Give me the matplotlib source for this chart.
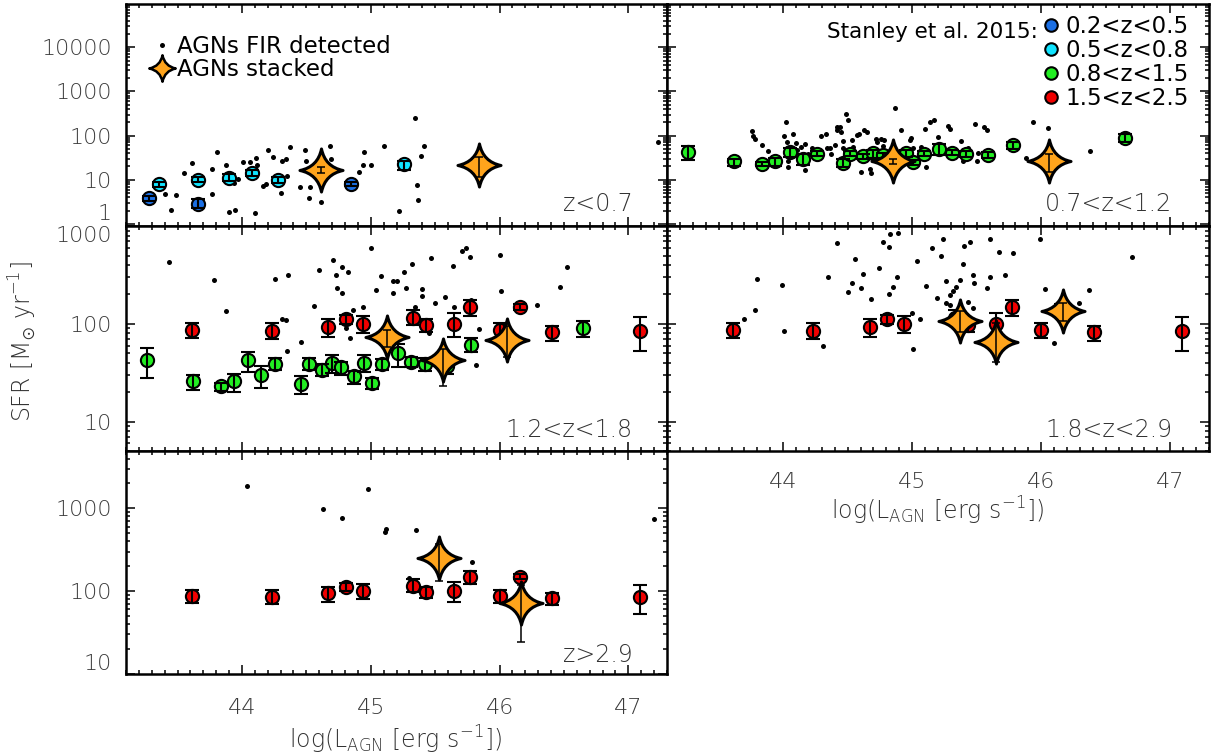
import numpy as np
import matplotlib.pyplot as plt
from matplotlib.path import Path
from matplotlib.markers import MarkerStyle
from matplotlib.lines import Line2D
from matplotlib.ticker import FixedLocator, MultipleLocator, LogLocator, NullFormatter, FuncFormatter

plt.rcParams['font.family'] = ['DejaVu Sans']
plt.rcParams['font.weight'] = 'light'
plt.rcParams['mathtext.fontset'] = 'dejavusans'

# ---- FIR detected AGNs (black dots), one set per panel ----
fir1_x = [43.40, 43.45, 43.49, 43.55, 43.61, 43.77, 43.77, 43.81, 43.88, 43.90, 43.95, 43.94, 43.97, 44.01, 44.06,
          44.10, 44.11, 44.12, 44.12, 44.16, 44.19, 44.20, 44.24, 44.28, 44.30, 44.31, 44.34, 44.35, 44.37, 44.45,
          44.49, 44.50, 44.52, 44.53, 44.61, 44.68, 44.69, 44.91, 44.94, 44.95, 45.00, 45.10, 45.22, 45.34, 45.36,
          45.37, 45.39, 45.41, 47.23]
fir1_y = [4.7, 2.1, 4.5, 14, 24, 4.7, 17.6, 43, 21.7, 1.9, 2.1, 8.6, 10.3, 25.8, 25,
          1.8, 30.7, 21.7, 14, 7.2, 7.9, 47, 33, 13, 4.9, 27, 30, 12, 55, 7,
          46, 27, 3.9, 7, 3.2, 58, 30, 15, 22, 43, 21.7, 59, 2.0, 247, 7.6,
          3.5, 35, 59, 71]

fir2_x = [43.76, 43.77, 43.78, 43.84, 43.88, 44.02, 44.01, 44.03, 44.04, 44.04, 44.08, 44.10, 44.11, 44.14, 44.17,
          44.17, 44.19, 44.22, 44.24, 44.29, 44.33, 44.34, 44.36, 44.37, 44.40, 44.42, 44.42, 44.44, 44.45, 44.46,
          44.46, 44.48, 44.49, 44.50, 44.53, 44.54, 44.57, 44.59, 44.60, 44.61, 44.63, 44.65, 44.67, 44.68, 44.69,
          44.72, 44.73, 44.76, 44.77, 44.78, 44.87, 44.91, 44.98, 44.99, 45.01, 45.07, 45.10, 45.11, 45.14, 45.17,
          45.20, 45.23, 45.28, 45.29, 45.38, 45.39, 45.39, 45.43, 45.49, 45.50, 45.51, 45.56, 45.58, 45.94, 46.05,
          45.88, 46.38]
fir2_y = [128, 100, 84, 62, 45, 200, 100, 71, 26, 19, 109, 67, 47, 56, 16.7,
          64, 38, 52, 45, 100, 109, 53, 52, 38, 62, 134, 155, 160, 119, 76,
          52, 40, 304, 226, 80, 54, 104, 108, 15.3, 40, 134, 119, 17.6, 14, 47,
          84, 73, 84, 59, 80, 416, 134, 80, 87, 52, 56, 139, 19.9, 207, 226,
          95, 52, 166, 142, 76, 26, 47, 52, 181, 26, 40, 160, 134, 200, 147,
          31, 45]

fir3_x = [43.43, 43.78, 43.88, 44.26, 44.31, 44.34, 44.35, 44.36, 44.46, 44.56, 44.60, 44.71, 44.73, 44.74, 44.78,
          44.78, 44.82, 44.81, 44.84, 44.86, 44.94, 45.00, 45.04, 45.08, 45.17, 45.20, 45.17, 45.27, 45.26, 45.32,
          45.32, 45.34, 45.37, 45.40, 45.40, 45.45, 45.47, 45.50, 45.58, 45.64, 45.65, 45.71, 45.74, 45.77, 45.78,
          45.82, 45.84, 46.00, 46.01, 46.47, 46.52, 46.29]
fir3_y = [435, 282, 137, 286, 112, 110, 53, 318, 66, 153, 357, 452, 318, 232, 209,
          386, 343, 90, 71, 139, 148, 596, 223, 310, 278, 278, 209, 232, 336, 411,
          110, 148, 110, 226, 194, 80, 470, 165, 190, 393, 150, 563, 596, 482, 176,
          38, 88, 508, 218, 241, 380, 157]

fir4_x = [43.80, 43.78, 43.70, 43.99, 44.01, 44.31, 44.35, 44.42, 44.50, 44.53, 44.56, 44.60, 44.62, 44.68, 44.74,
          44.77, 44.82, 44.83, 44.82, 44.85, 44.88, 44.89, 45.00, 45.01, 45.04, 45.06, 45.11, 45.15, 45.19, 45.22,
          45.24, 45.26, 45.26, 45.29, 45.29, 45.32, 45.34, 45.37, 45.39, 45.40, 45.45, 45.43, 45.47, 45.48, 45.47,
          45.58, 45.60, 45.60, 45.67, 45.72, 45.78, 45.99, 46.03, 46.10, 46.29, 46.37, 46.70]
fir4_y = [287, 139, 112, 251, 85, 60, 300, 670, 214, 265, 459, 232, 325, 179, 372,
          697, 610, 835, 203, 236, 300, 861, 129, 55, 445, 112, 245, 596, 183, 497,
          736, 278, 165, 157, 198, 219, 237, 282, 408, 630, 697, 169, 318, 265, 145,
          232, 305, 736, 542, 318, 537, 736, 226, 64, 163, 223, 489]

fir5_x = [44.04, 44.63, 44.78, 44.98, 45.11, 45.12, 45.35, 45.79, 47.20, 45.30]
fir5_y = [1862, 990, 757, 1700, 522, 557, 547, 226, 736, 145]

# ---- Stanley et al. 2015 ----
blue_x = [43.28, 43.66, 44.85]
blue_y = [3.8, 2.9, 7.9]
blue_lo = [3.3, 2.3, 7.2]
blue_hi = [4.4, 3.6, 8.7]

cyan_x = [43.36, 43.66, 43.90, 44.08, 44.28, 45.26]
cyan_y = [7.9, 9.9, 11.2, 14.0, 10.0, 22.8]
cyan_lo = [7.0, 8.8, 9.6, 12.0, 8.6, 16.5]
cyan_hi = [9.0, 11.3, 13.5, 16.5, 11.6, 27.0]

green_x = [43.26, 43.62, 43.84, 43.94, 44.05, 44.15, 44.26, 44.46, 44.52, 44.62, 44.70, 44.77, 44.87, 44.95,
           45.01, 45.09, 45.21, 45.31, 45.42, 45.59, 45.78, 46.65]
green_y = [43, 26, 23, 26, 43, 30, 39, 24, 39, 34, 40, 36, 29, 40, 25, 39, 50, 41, 39, 37, 61, 90]
green_lo = [28, 21, 20.5, 20, 32.5, 22, 34, 19, 34, 29, 31.7, 30, 24, 32, 21.5, 34, 36.6, 36, 33, 31, 51, 73]
green_hi = [57, 30, 25, 31, 52, 37.5, 44.5, 29, 44.5, 39, 48, 41, 33, 48, 28, 44, 63, 46, 45, 43, 71, 108]

red_x = [43.61, 44.235, 44.67, 44.805, 44.94, 45.33, 45.43, 45.65, 45.77, 46.0, 46.155, 46.41, 47.09]
red_y = [87, 85, 94, 112, 100, 116, 97, 100, 148, 87, 150, 82, 84]
red_lo = [71, 70, 74, 100, 80, 98, 83, 74, 121, 71, 139, 67.5, 53]
red_hi = [103, 102, 112, 124, 121, 139, 112, 129, 176, 102, 160, 95, 119]

# ---- stacked AGNs (stars) ----
st1_x, st1_y, st1_lo, st1_hi = [44.61, 45.84], [16.7, 21.7], [14.5, 11.8], [19.0, 33.5]
st2_x, st2_y, st2_lo, st2_hi = [44.85, 46.06], [27, 26], [23, 15], [30, 38]
st3_x, st3_y, st3_lo, st3_hi = [45.13, 45.56, 46.06], [74, 43, 68.5], [58, 23, 46], [87, 56, 95]
st4_x, st4_y, st4_lo, st4_hi = [45.37, 45.65, 46.17], [107, 66, 134], [83, 41, 106], [134, 101, 163]
st5_x, st5_y, st5_lo, st5_hi = [45.53, 46.17], [253, 72], [132, 24], [367, 120]

c_blue = '#1B6FE4'
c_cyan = '#10E4FF'
c_green = '#22EE22'
c_red = '#F00000'
c_orange = '#FFA41C'

# 4-pointed star with concave sides
k = 0.17
star_path = Path([(0, 1), (k, k), (1, 0), (k, -k), (0, -1), (-k, -k), (-1, 0), (-k, k), (0, 1), (0, 1)],
                 [Path.MOVETO, Path.CURVE3, Path.CURVE3, Path.CURVE3, Path.CURVE3,
                  Path.CURVE3, Path.CURVE3, Path.CURVE3, Path.CURVE3, Path.CLOSEPOLY])
star = MarkerStyle(star_path, joinstyle='miter')

fig = plt.figure(figsize=(12.11, 7.56), dpi=100)
L, WL = 126 / 1211, 541 / 1211
R, WR = 667 / 1211, 542 / 1211
ax1 = fig.add_axes([L, 1 - 226 / 756, WL, 222 / 756])
ax2 = fig.add_axes([R, 1 - 226 / 756, WR, 222 / 756])
ax3 = fig.add_axes([L, 1 - 451 / 756, WL, 225 / 756])
ax4 = fig.add_axes([R, 1 - 451 / 756, WR, 225 / 756])
ax5 = fig.add_axes([L, 1 - 674 / 756, WL, 223 / 756])


def setup(ax, ylim, yticks, xlab, ylab, xpad=17):
    ax.set_xlim(43.1, 47.3)
    ax.set_yscale('log')
    ax.set_ylim(ylim)
    ax.yaxis.set_major_locator(FixedLocator(yticks))
    ax.yaxis.set_minor_locator(LogLocator(base=10, subs=np.arange(2, 10), numticks=30))
    ax.yaxis.set_major_formatter(FuncFormatter(lambda v, p: '%d' % round(v)))
    ax.yaxis.set_minor_formatter(NullFormatter())
    ax.xaxis.set_major_locator(FixedLocator([44, 45, 46, 47]))
    ax.xaxis.set_minor_locator(MultipleLocator(0.1))
    ax.tick_params(which='both', direction='in', top=True, right=True, width=1.1, color='k')
    ax.tick_params(which='major', length=6.5)
    ax.tick_params(which='minor', length=3.2)
    ax.tick_params(axis='y', labelleft=ylab, labelsize=16, labelcolor='#3a3a3a', pad=10)
    ax.tick_params(axis='x', labelbottom=xlab, labelsize=16, labelcolor='#3a3a3a', pad=xpad)
    for s in ax.spines.values():
        s.set_linewidth(1.8)


def stanley(ax, x, y, lo, hi, col):
    ax.plot(x, y, ls='none', marker='o', ms=9.5, mfc=col, mec='k', mew=1.5, zorder=3)
    ax.errorbar(x, y, yerr=[np.array(y) - np.array(lo), np.array(hi) - np.array(y)], fmt='none',
                ecolor='k', elinewidth=1.5, capsize=4.7, capthick=1.5, zorder=4)


def stacked(ax, x, y, lo, hi):
    ax.plot(x, y, ls='none', marker=star, ms=31, mfc=c_orange, mec='k', mew=2.2, zorder=5)
    ax.errorbar(x, y, yerr=[np.array(y) - np.array(lo), np.array(hi) - np.array(y)], fmt='none',
                ecolor='k', elinewidth=1.1, capsize=2.8, capthick=1.1, zorder=6)


def fir(ax, x, y):
    ax.plot(x, y, ls='none', marker='o', ms=3.6, color='k', mew=0, zorder=2)


def zlabel(ax, txt, dx=-24.5, dy=11):
    ax.annotate(txt, xy=(1, 0), xycoords='axes fraction', xytext=(dx, dy), textcoords='offset points',
                ha='right', va='baseline', fontsize=17, color='#333333')


leg_font = {'size': 16.5, 'weight': 'normal'}

# top-left
setup(ax1, (0.9, 9.5e4), [1, 10, 100, 1000, 10000], False, True)
fir(ax1, fir1_x, fir1_y)
stanley(ax1, blue_x, blue_y, blue_lo, blue_hi, c_blue)
stanley(ax1, cyan_x, cyan_y, cyan_lo, cyan_hi, c_cyan)
stacked(ax1, st1_x, st1_y, st1_lo, st1_hi)
zlabel(ax1, 'z<0.7')
h_dot = Line2D([], [], ls='none', marker='o', ms=3.6, color='k', mew=0)
h_star = Line2D([], [], ls='none', marker=star, ms=19, mfc=c_orange, mec='k', mew=1.8)
ax1.legend([h_dot, h_star], ['AGNs FIR detected', 'AGNs stacked'], loc='upper left',
           bbox_to_anchor=(0.046, 0.862), frameon=False, prop=leg_font, handlelength=1.0,
           handletextpad=0.14, borderpad=0, borderaxespad=0, labelspacing=0.0, numpoints=1)

# top-right
setup(ax2, (0.9, 9.5e4), [1, 10, 100, 1000, 10000], False, False)
fir(ax2, fir2_x, fir2_y)
stanley(ax2, green_x, green_y, green_lo, green_hi, c_green)
stacked(ax2, st2_x, st2_y, st2_lo, st2_hi)
zlabel(ax2, '0.7<z<1.2', dx=-26.5)
hs = [Line2D([], [], ls='none', marker='o', ms=9, mfc=c, mec='k', mew=1.5)
      for c in [c_blue, c_cyan, c_green, c_red]]
ax2.legend(hs, ['0.2<z<0.5', '0.5<z<0.8', '0.8<z<1.5', '1.5<z<2.5'], loc='upper left',
           bbox_to_anchor=(0.688, 0.952), frameon=False, prop=leg_font, handlelength=1.0,
           handletextpad=0.12, borderpad=0, borderaxespad=0, labelspacing=0.05, numpoints=1)
ax2.text(0.684, 0.872, 'Stanley et al. 2015:', transform=ax2.transAxes, ha='right', va='center',
         fontsize=15.5, fontweight='normal')

# middle-left
setup(ax3, (5.0, 1005), [10, 100, 1000], False, True)
fir(ax3, fir3_x, fir3_y)
stanley(ax3, green_x, green_y, green_lo, green_hi, c_green)
stanley(ax3, red_x, red_y, red_lo, red_hi, c_red)
stacked(ax3, st3_x, st3_y, st3_lo, st3_hi)
zlabel(ax3, '1.2<z<1.8', dy=10)

# middle-right
setup(ax4, (5.0, 1005), [10, 100, 1000], True, False, xpad=15)
fir(ax4, fir4_x, fir4_y)
stanley(ax4, red_x, red_y, red_lo, red_hi, c_red)
stacked(ax4, st4_x, st4_y, st4_lo, st4_hi)
zlabel(ax4, '1.8<z<2.9', dx=-26.5, dy=10)

# bottom-left
setup(ax5, (9.95, 4930), [10, 100, 1000], True, True, xpad=17)
fir(ax5, fir5_x, fir5_y)
stanley(ax5, red_x, red_y, red_lo, red_hi, c_red)
stacked(ax5, st5_x, st5_y, st5_lo, st5_hi)
zlabel(ax5, 'z>2.9', dy=9)

xlab = 'log(L$_{\\rm AGN}$ [erg s$^{-1}$])'
fig.text(396 / 1211, 1 - 740 / 756, xlab, ha='center', va='center', fontsize=17, color='#333333')
fig.text(938 / 1211, 1 - 511 / 756, xlab, ha='center', va='center', fontsize=17, color='#333333')
fig.text(23 / 1211, 1 - 342 / 756, 'SFR [M$_{\\odot}$ yr$^{-1}$]', rotation=90, ha='center', va='center',
         fontsize=17, color='#333333')

# shift edge tick labels like the original so they do not collide
fig.canvas.draw()
for ax, txt, va in [(ax1, '1', 'bottom'), (ax3, '1000', 'top'), (ax5, '10', 'bottom')]:
    for lab in ax.get_yticklabels():
        if lab.get_text() == txt:
            lab.set_va(va)

fig.savefig('out.png', dpi=100)
